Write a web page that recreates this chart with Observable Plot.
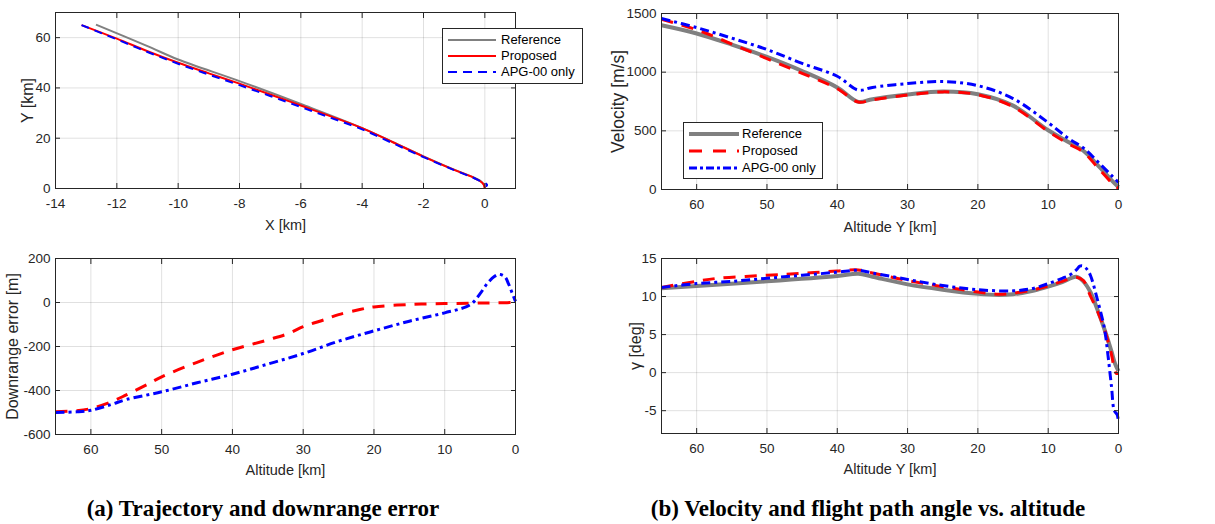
<!DOCTYPE html>
<html>
<head>
<meta charset="utf-8">
<script src="https://cdn.jsdelivr.net/npm/d3@7"></script>
<script src="https://cdn.jsdelivr.net/npm/@observablehq/plot@0.6"></script>
<style>
  html, body { margin: 0; padding: 0; background: #fff; }
  #root { position: relative; width: 1215px; height: 524px; overflow: hidden; font-family: "Liberation Sans", Arial, sans-serif; }
  .panel { position: absolute; }
  .legend { position: absolute; background: #fff; border: 1px solid #262626; font-size: 13px; color: #000; box-sizing: border-box; }
  .legend .row { position: absolute; left: 0; height: 16px; line-height: 16px; white-space: nowrap; }
  .legend svg { position: absolute; left: 4px; top: 0; }
  .legend span { position: absolute; }
  .caption { position: absolute; font-family: "Liberation Serif", "Times New Roman", serif; font-weight: bold; font-size: 23px; color: #000; white-space: nowrap; transform: translateX(-50%); }
</style>
</head>
<body>
<div id="root"></div>
<script>
// ---------- Data ----------
// (top-left) trajectory X [km] vs Y [km]
const trajRefX = [-12.68, -11, -10, -8, -6, -4, -2, -1, -0.4, -0.12, -0.02, 0];
const trajRefY = [65.2, 56.6, 51.3, 42.7, 33.6, 24.0, 12.8, 7.5, 4.6, 2.8, 1.4, 0];
const trajPropX = [-13.15, -12, -11, -10, -9, -8, -7, -6, -5, -4, -3, -2, -1, -0.4, -0.15, -0.04, 0];
const trajPropY = [65.0, 59.6, 54.6, 50.0, 45.8, 41.7, 37.4, 33.0, 28.6, 24.0, 18.4, 12.7, 7.4, 4.5, 2.9, 1.6, 0];
const trajApgX = [-13.15, -12, -11, -10, -9, -8, -7, -6, -5, -4, -3, -2, -1, -0.4, -0.12, 0.02, 0.07, 0.06, 0.03];
const trajApgY = [65.0, 59.3, 54.3, 49.6, 45.3, 41.1, 36.8, 32.4, 28.0, 23.5, 18.0, 12.5, 7.3, 4.4, 2.8, 2.1, 1.6, 1.1, 1.0];

// (top-right) velocity [m/s] vs altitude [km]
const velAlt = [65, 60, 55, 50, 45, 40, 37, 35, 30, 25, 20, 15, 10, 7, 5, 3, 1, 0];
const velRef = [1400, 1330, 1235, 1130, 1010, 870, 747, 770, 810, 835, 812, 715, 505, 400, 330, 210, 80, 20];
const velProp = [1450, 1362, 1240, 1115, 990, 860, 745, 765, 805, 832, 808, 705, 495, 385, 320, 190, 60, 10];
const velApg = [1457, 1380, 1290, 1193, 1075, 965, 847, 870, 903, 920, 885, 775, 570, 430, 355, 240, 120, 60];

// (bottom-left) downrange error [m] vs altitude [km]
const errPropAlt = [65, 62, 60, 57, 55, 52, 50, 45, 40, 35, 32, 30, 27, 25, 22, 20, 15, 10, 6, 4, 2, 0];
const errProp = [-497, -492, -482, -450, -420, -372, -338, -272, -215, -170, -140, -110, -78, -55, -32, -20, -9, -5, -3, -2, -1, 0];
const errApgAlt = [65, 62, 60, 57, 55, 50, 45, 40, 35, 30, 25, 20, 15, 10, 7, 6, 5, 4, 3, 2.3, 1.5, 1, 0.5, 0];
const errApg = [-500, -497, -490, -462, -441, -406, -365, -326, -280, -232, -176, -129, -85, -47, -20, 0, 40, 86, 118, 128, 117, 86, 45, 5];

// (bottom-right) flight path angle gamma [deg] vs altitude [km]
const gamRefAlt = [65, 60, 50, 40, 37, 35, 30, 25, 20, 17, 15, 12, 10, 8, 6, 5, 4, 3, 2, 1, 0.5, 0];
const gamRef = [11.1, 11.4, 12.0, 12.7, 13.0, 12.6, 11.6, 10.9, 10.35, 10.2, 10.3, 10.8, 11.3, 11.9, 12.6, 12.0, 10.6, 8.3, 5.7, 2.8, 1.2, 0.2];
const gamPropAlt = [65, 60, 57, 50, 45, 40, 37, 35, 30, 25, 20, 17, 15, 12, 10, 8, 6, 5, 4, 3, 2, 1, 0.6, 0.3, 0];
const gamProp = [11.2, 12.0, 12.4, 12.8, 13.05, 13.35, 13.5, 13.1, 12.1, 11.3, 10.6, 10.3, 10.45, 10.9, 11.4, 12.0, 12.55, 12.1, 10.1, 8.1, 5.7, 2.4, 0.5, -0.1, -0.1];
const gamApgAlt = [65, 60, 55, 50, 45, 40, 37, 35, 30, 25, 20, 15, 12, 10, 8, 7, 6, 5.5, 5, 4.5, 4, 3, 2, 1.5, 1, 0.6, 0.2, 0];
const gamApg = [11.2, 11.7, 12.0, 12.4, 12.8, 13.2, 13.45, 13.1, 12.25, 11.45, 10.9, 10.75, 11.1, 11.7, 12.4, 12.8, 13.5, 14.0, 14.0, 13.6, 12.8, 9.6, 5.8, 2.3, -1.8, -5.0, -5.5, -6.5];

// tick values
const trajXTicks = [-14, -12, -10, -8, -6, -4, -2, 0];
const trajYTicks = [0, 20, 40, 60];
const altTicks = [60, 50, 40, 30, 20, 10, 0];
const velTicks = [0, 500, 1000, 1500];
const errTicks = [-600, -400, -200, 0, 200];
const gamTicks = [-5, 0, 5, 10, 15];

const seriesNames = ["Reference", "Proposed", "APG-00 only"];
const captions = ["(a) Trajectory and downrange error", "(b) Velocity and flight path angle vs. altitude"];

// ---------- helpers ----------
const INK = "#262626";
const zip = (xs, ys) => xs.map((x, i) => ({x, y: ys[i]}));
const fmt = d => String(d);

function panel({left, top, width, height, margins, x, y, xTicks, yTicks, xLabel, yLabel, xLabelDy, yLabelDx, yLabelSize = 16, lines}) {
  const [mt, mr, mb, ml] = margins;
  const chart = Plot.plot({
    width, height,
    marginTop: mt, marginRight: mr, marginBottom: mb, marginLeft: ml,
    style: {fontFamily: "'Liberation Sans', Arial, sans-serif", fontSize: "13.5px", color: INK, background: "transparent", overflow: "visible"},
    x: {...x},
    y: {...y},
    marks: [
      Plot.gridX(xTicks, {stroke: "#000", strokeOpacity: 0.12, strokeWidth: 1}),
      Plot.gridY(yTicks, {stroke: "#000", strokeOpacity: 0.12, strokeWidth: 1}),
      ...lines.map(l => Plot.line(l.data, {x: "x", y: "y", stroke: l.stroke, strokeWidth: l.width, strokeDasharray: l.dash, curve: "catmull-rom", strokeLinecap: "butt", strokeLinejoin: "round"})),
      Plot.frame({stroke: INK, strokeWidth: 1}),
      Plot.axisX(xTicks, {anchor: "bottom", tickSize: -5, tickPadding: 15, fontSize: 13.5, tickFormat: fmt, label: null}),
      Plot.axisX(xTicks, {anchor: "top", tickSize: -5, tickFormat: () => "", label: null}),
      Plot.axisY(yTicks, {anchor: "left", tickSize: -5, tickPadding: 10, fontSize: 13.5, tickFormat: fmt, label: null}),
      Plot.axisY(yTicks, {anchor: "right", tickSize: -5, tickFormat: () => "", label: null}),
      Plot.text([xLabel], {frameAnchor: "bottom", dy: xLabelDy, fontSize: 14.5, fill: INK, textAnchor: "middle", lineAnchor: "middle"}),
      Plot.text([yLabel], {frameAnchor: "left", dx: yLabelDx, rotate: -90, fontSize: yLabelSize, fill: INK, textAnchor: "middle", lineAnchor: "middle"})
    ]
  });
  const div = document.createElement("div");
  div.className = "panel";
  div.style.left = left + "px";
  div.style.top = top + "px";
  div.appendChild(chart);
  document.getElementById("root").appendChild(div);
}

function legend({left, top, width, height, rows, textLeft, lineW}) {
  const box = document.createElement("div");
  box.className = "legend";
  Object.assign(box.style, {left: left + "px", top: top + "px", width: width + "px", height: height + "px"});
  rows.forEach((r) => {
    const row = document.createElement("div");
    row.className = "row";
    row.style.top = (r.y - 8) + "px";
    row.style.width = width + "px";
    row.innerHTML = `<svg width="${lineW + 2}" height="16"><line x1="1" x2="${lineW + 1}" y1="8" y2="8" stroke="${r.stroke}" stroke-width="${r.width}" stroke-dasharray="${r.dash || ""}"/></svg><span style="left:${textLeft}px">${r.name}</span>`;
    box.appendChild(row);
  });
  document.getElementById("root").appendChild(box);
}

const GRAY = "#808080", RED = "#ff0000", BLUE = "#0000ff";

// ---------- (top-left) trajectory ----------
panel({
  left: 0, top: 0, width: 530, height: 240, margins: [12, 15, 52, 55],
  x: {domain: [-14, 1]}, y: {domain: [0, 70]},
  xTicks: trajXTicks, yTicks: trajYTicks,
  xLabel: "X [km]", yLabel: "Y [km]", xLabelDy: 37, yLabelDx: -28,
  lines: [
    {data: zip(trajRefX, trajRefY), stroke: GRAY, width: 2},
    {data: zip(trajPropX, trajPropY), stroke: RED, width: 2},
    {data: zip(trajApgX, trajApgY), stroke: BLUE, width: 2, dash: "8,6"}
  ]
});
legend({left: 442, top: 28, width: 141, height: 56, textLeft: 58, lineW: 48, rows: [
  {name: seriesNames[0], y: 11, stroke: GRAY, width: 2},
  {name: seriesNames[1], y: 27, stroke: RED, width: 2},
  {name: seriesNames[2], y: 43, stroke: BLUE, width: 2, dash: "9,6"}
]});

// ---------- (top-right) velocity ----------
panel({
  left: 605, top: 0, width: 525, height: 240, margins: [13, 12, 51, 56],
  x: {domain: [65, 0]}, y: {domain: [0, 1500]},
  xTicks: altTicks, yTicks: velTicks,
  xLabel: "Altitude Y [km]", yLabel: "Velocity [m/s]", xLabelDy: 38, yLabelDx: -43, yLabelSize: 17.5,
  lines: [
    {data: zip(velAlt, velRef), stroke: GRAY, width: 4},
    {data: zip(velAlt, velProp), stroke: RED, width: 3, dash: "12,9"},
    {data: zip(velAlt, velApg), stroke: BLUE, width: 3, dash: "9,4,3,4"}
  ]
});
legend({left: 683, top: 122, width: 140, height: 57, textLeft: 58, lineW: 50, rows: [
  {name: seriesNames[0], y: 11, stroke: GRAY, width: 4},
  {name: seriesNames[1], y: 28, stroke: RED, width: 3, dash: "13,11"},
  {name: seriesNames[2], y: 45, stroke: BLUE, width: 3, dash: "8,3,3,3"}
]});

// ---------- (bottom-left) downrange error ----------
panel({
  left: 0, top: 240, width: 530, height: 240, margins: [18, 15, 46, 55],
  x: {domain: [65, 0]}, y: {domain: [-600, 200]},
  xTicks: altTicks, yTicks: errTicks,
  xLabel: "Altitude [km]", yLabel: "Downrange error [m]", xLabelDy: 36, yLabelDx: -43,
  lines: [
    {data: zip(errPropAlt, errProp), stroke: RED, width: 3, dash: "12,9"},
    {data: zip(errApgAlt, errApg), stroke: BLUE, width: 3, dash: "9,4,3,4"}
  ]
});

// ---------- (bottom-right) flight path angle ----------
panel({
  left: 605, top: 240, width: 525, height: 240, margins: [18, 12, 47, 56],
  x: {domain: [65, 0]}, y: {domain: [-8, 15]},
  xTicks: altTicks, yTicks: gamTicks,
  xLabel: "Altitude Y [km]", yLabel: "γ [deg]", xLabelDy: 36, yLabelDx: -26,
  lines: [
    {data: zip(gamRefAlt, gamRef), stroke: GRAY, width: 4},
    {data: zip(gamPropAlt, gamProp), stroke: RED, width: 3, dash: "12,9"},
    {data: zip(gamApgAlt, gamApg), stroke: BLUE, width: 3, dash: "9,4,3,4"}
  ]
});

// ---------- captions ----------
[[263, captions[0]], [868, captions[1]]].forEach(([cx, t]) => {
  const d = document.createElement("div");
  d.className = "caption";
  d.style.left = cx + "px";
  d.style.top = "496px";
  d.textContent = t;
  document.getElementById("root").appendChild(d);
});
</script>
</body>
</html>
